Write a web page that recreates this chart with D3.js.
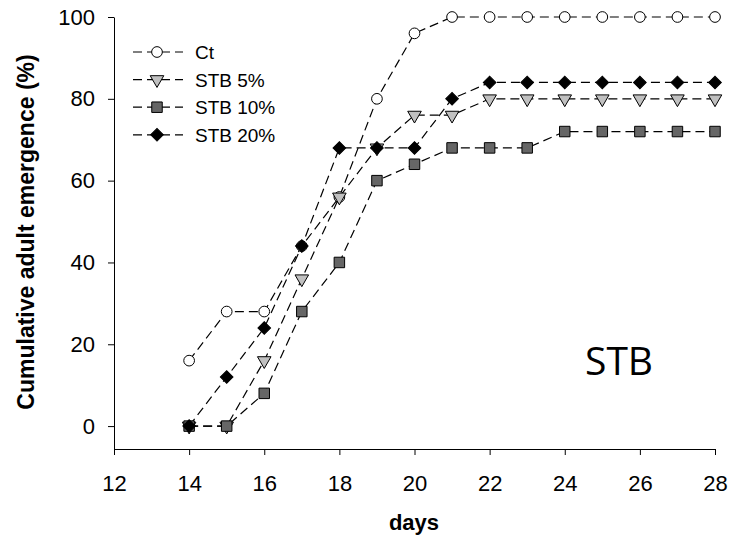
<!DOCTYPE html>
<html>
<head>
<meta charset="utf-8">
<script src="https://cdn.jsdelivr.net/npm/d3@7"></script>
<style>
  body { margin: 0; background: #fff; }
  text { font-family: "Liberation Sans", Arial, sans-serif; }
</style>
</head>
<body>
<script>
'use strict';

// chart data
const days = [14, 15, 16, 17, 18, 19, 20, 21, 22, 23, 24, 25, 26, 27, 28];
const ct = [16, 28, 28, 44, 56, 80, 96, 100, 100, 100, 100, 100, 100, 100, 100];
const stb5 = [0, 0, 16, 36, 56, 68, 76, 76, 80, 80, 80, 80, 80, 80, 80];
const stb10 = [0, 0, 8, 28, 40, 60, 64, 68, 68, 68, 72, 72, 72, 72, 72];
const stb20 = [0, 12, 24, 44, 68, 68, 68, 80, 84, 84, 84, 84, 84, 84, 84];
const seriesNames = ["Ct", "STB 5%", "STB 10%", "STB 20%"];
const xTicks = [12, 14, 16, 18, 20, 22, 24, 26, 28];
const yTicks = [0, 20, 40, 60, 80, 100];

const width = 731, height = 542;

const svg = d3.select('body').append('svg')
  .attr('width', width)
  .attr('height', height);

// scales
const xScale = d3.scaleLinear().domain([12, 28]).range([114, 715]);
const yScale = d3.scaleLinear().domain([-5.6, 100]).range([449, 17]);

// x axis
svg.append('g')
  .attr('transform', 'translate(0, 449)')
  .call(d3.axisBottom(xScale).tickValues(xTicks).tickSize(6).tickPadding(20).tickSizeOuter(0))
  .call(g => g.selectAll('text').style('font-size', '22px').attr('fill', '#000'))
  .call(g => g.select('.domain').attr('stroke', '#000'));

// y axis
svg.append('g')
  .attr('transform', 'translate(114, 0)')
  .call(d3.axisLeft(yScale).tickValues(yTicks).tickSize(6).tickPadding(13).tickSizeOuter(0))
  .call(g => g.selectAll('text').style('font-size', '22px').attr('fill', '#000'))
  .call(g => g.select('.domain').attr('stroke', '#000'));

// axis titles
svg.append('text')
  .attr('x', 414)
  .attr('y', 530)
  .attr('text-anchor', 'middle')
  .style('font-size', '22px')
  .style('font-weight', 'bold')
  .text('days');

svg.append('text')
  .attr('transform', 'translate(34, 232)rotate(-90)')
  .attr('text-anchor', 'middle')
  .style('font-size', '23px')
  .style('font-weight', 'bold')
  .text('Cumulative adult emergence (%)');

// STB label
svg.append('text')
  .attr('x', 585)
  .attr('y', 375)
  .style('font-family', '"Open Sans", sans-serif')
  .style('font-size', '39px')
  .text('STB');

// marker styles per series
const styles = [
  { shape: d3.symbolCircle, size: 90, fill: '#fff', rot: 0 },
  { shape: d3.symbolTriangle, size: 80, fill: '#c0c0c0', rot: 180 },
  { shape: d3.symbolSquare, size: 110, fill: '#666666', rot: 0 },
  { shape: d3.symbolSquare, size: 80, fill: '#000', rot: 45 }
];

const allSeries = [ct, stb5, stb10, stb20];

const line = d3.line()
  .x((d, i) => xScale(days[i]))
  .y(d => yScale(d));

// draw lines first, then markers (later series on top)
allSeries.forEach(function(vals, k) {
  svg.append('path')
    .datum(vals)
    .attr('d', line)
    .attr('fill', 'none')
    .attr('stroke', '#000')
    .attr('stroke-width', 1.2)
    .attr('stroke-dasharray', '9,5');
});

allSeries.forEach(function(vals, k) {
  const st = styles[k];
  svg.selectAll('.m' + k)
    .data(vals)
    .enter()
    .append('path')
      .attr('class', 'm' + k)
      .attr('d', d3.symbol().type(st.shape).size(st.size))
      .attr('transform', (d, i) => 'translate(' + xScale(days[i]) + ',' + yScale(d) + ')rotate(' + st.rot + ')')
      .attr('fill', st.fill)
      .attr('stroke', '#000')
      .attr('stroke-width', 1);
});

// legend
const legend = svg.append('g');
seriesNames.forEach(function(name, k) {
  const y = 52 + k * 27.6;
  const st = styles[k];
  legend.append('line')
    .attr('x1', 133).attr('x2', 183)
    .attr('y1', y).attr('y2', y)
    .attr('stroke', '#000')
    .attr('stroke-width', 1.2)
    .attr('stroke-dasharray', '9,5');
  legend.append('path')
    .attr('d', d3.symbol().type(st.shape).size(st.size))
    .attr('transform', 'translate(157,' + y + ')rotate(' + st.rot + ')')
    .attr('fill', st.fill)
    .attr('stroke', '#000');
  legend.append('text')
    .attr('x', 195)
    .attr('y', y + 7)
    .style('font-size', '19px')
    .text(name);
});
</script>
</body>
</html>
